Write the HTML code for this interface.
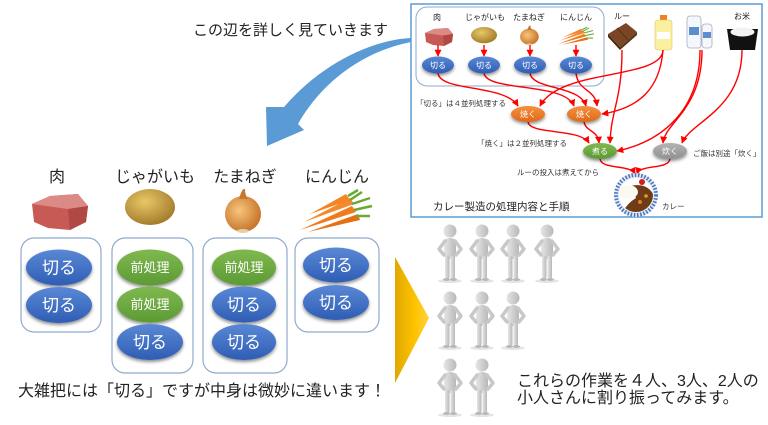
<!DOCTYPE html>
<html><head><meta charset="utf-8"><style>
html,body{margin:0;padding:0;background:#fff;width:768px;height:425px;overflow:hidden}
svg{display:block}
text{font-family:"Liberation Sans","Noto Sans CJK JP",sans-serif}
</style></head><body>
<svg width="768" height="425" viewBox="0 0 768 425" xmlns="http://www.w3.org/2000/svg">
<defs>
<linearGradient id="gb" x1="0" y1="0" x2="0" y2="1"><stop offset="0" stop-color="#5a88d6"/><stop offset="1" stop-color="#2f5db4"/></linearGradient>
<linearGradient id="gg" x1="0" y1="0" x2="0" y2="1"><stop offset="0" stop-color="#80b850"/><stop offset="1" stop-color="#5c9a34"/></linearGradient>
<linearGradient id="go" x1="0" y1="0" x2="0" y2="1"><stop offset="0" stop-color="#f59040"/><stop offset="1" stop-color="#dd6a18"/></linearGradient>
<linearGradient id="ggr" x1="0" y1="0" x2="0" y2="1"><stop offset="0" stop-color="#b4b4b4"/><stop offset="1" stop-color="#909090"/></linearGradient>
<linearGradient id="gy" x1="0" y1="0" x2="1" y2="0"><stop offset="0" stop-color="#e0a800"/><stop offset="0.6" stop-color="#ffc400"/><stop offset="1" stop-color="#ffd040"/></linearGradient>
<radialGradient id="gpot" cx="0.4" cy="0.35" r="0.7"><stop offset="0" stop-color="#e8c868"/><stop offset="1" stop-color="#a07828"/></radialGradient>
<radialGradient id="gon" cx="0.4" cy="0.4" r="0.7"><stop offset="0" stop-color="#f6c67c"/><stop offset="1" stop-color="#c06a20"/></radialGradient>
<linearGradient id="gp" x1="0" y1="0" x2="1" y2="0"><stop offset="0" stop-color="#e6e6e6"/><stop offset="1" stop-color="#b8b8b8"/></linearGradient>
<filter id="sh" x="-20%" y="-20%" width="140%" height="160%"><feDropShadow dx="0" dy="2" stdDeviation="1.5" flood-color="#000" flood-opacity="0.45"/></filter>
<clipPath id="plate"><circle cx="636" cy="195" r="17"/></clipPath>
<marker id="ar" viewBox="0 0 10 10" refX="9" refY="5" markerWidth="5" markerHeight="5" orient="auto"><path d="M0,0 L10,5 L0,10 Z" fill="#ff0000"/></marker>

<g id="meat">
<path d="M2,12 L20,4 L48,2 L58,14 L56,30 L40,38 L18,36 L4,30 Z" fill="#c85a56"/>
<path d="M2,12 L20,4 L48,2 L58,14 L38,17 Z" fill="#dc8a86"/>
<path d="M38,17 L58,14 L56,30 L40,38 Z" fill="#b04844"/>
</g>
<g id="potato"><ellipse cx="25" cy="18" rx="25" ry="18" fill="url(#gpot)"/></g>
<g id="onion">
<circle cx="20" cy="26" r="18" fill="url(#gon)"/>
<path d="M16,11 Q19,0 22,1 Q22,7 25,11 Z" fill="#c8782c"/>
<ellipse cx="20" cy="43" rx="6" ry="2" fill="#e0d0a8"/>
</g>
<g id="carrot">
<path d="M0,38 L52,14 L56,20 Z" fill="#f07a1c"/>
<path d="M4,30 L50,6 L54,12 Z" fill="#f58a2a"/>
<path d="M8,40 L58,22 L60,28 Z" fill="#e86e14"/>
<path d="M10,22 L46,2 L50,8 Z" fill="#f48424"/>
<path d="M50,8 L62,0 M52,12 L70,6 M54,18 L72,14 M56,24 L70,24 M48,4 L58,-2" stroke="#6aaa30" stroke-width="2.5" fill="none"/>
</g>
<g id="person">
<ellipse cx="12" cy="57" rx="12" ry="2" fill="#e4e4e4"/>
<circle cx="12" cy="7" r="6.5" fill="url(#gp)"/>
<rect x="6" y="14" width="12" height="21" rx="5" fill="url(#gp)"/>
<path d="M7,17 L1,25 L6,31 M17,17 L23,25 L18,31" stroke="#c8c8c8" stroke-width="3.5" fill="none" stroke-linecap="round" stroke-linejoin="round"/>
<rect x="7" y="32" width="4.5" height="23" rx="2" fill="url(#gp)"/>
<rect x="12.5" y="32" width="4.5" height="23" rx="2" fill="url(#gp)"/>
<ellipse cx="8.5" cy="55.5" rx="3.5" ry="1.5" fill="#b8b8b8"/>
<ellipse cx="15.5" cy="55.5" rx="3.5" ry="1.5" fill="#b8b8b8"/>
</g>
</defs>

<!-- top text -->
<text x="193" y="35" font-size="15" fill="#222">この辺を詳しく見ていきます</text>

<!-- blue arrow -->
<path d="M411,38 C370,40 320,65 284,107 L266,107 L267,146 L304,130 L298,124 C320,85 360,52 411,42 Z" fill="#5b9bd5"/>

<!-- top right diagram -->
<rect x="411" y="4" width="351" height="213" fill="#fff" stroke="#5b9bd5" stroke-width="1.5"/>
<rect x="416" y="7" width="188" height="79" rx="11" fill="none" stroke="#8eaacc" stroke-width="1"/>
<g font-size="8" fill="#222" text-anchor="middle">
<text x="437" y="20">肉</text>
<text x="485" y="20">じゃがいも</text>
<text x="529" y="20">たまねぎ</text>
<text x="576" y="20">にんじん</text>
<text x="622" y="19">ルー</text>
<text x="742" y="19">お米</text>
</g>
<use href="#meat" transform="translate(424,27) scale(0.5)"/>
<use href="#potato" transform="translate(471,27) scale(0.52,0.45)"/>
<use href="#onion" transform="translate(519,25) scale(0.52,0.45)"/>
<use href="#carrot" transform="translate(558,28) scale(0.5,0.42)"/>
<!-- roux -->
<path d="M608,34 L626,23 L637,32 L620,47 Z" fill="#7a4626"/>
<path d="M608,34 L620,47 L620,50 L608,37 Z" fill="#4a2810"/>
<path d="M620,47 L637,32 L637,35 L620,50 Z" fill="#5a3418"/>
<path d="M617,28 L628,40" stroke="#5a3418" stroke-width="1"/>
<!-- oil -->
<rect x="660" y="15" width="7" height="5" fill="#f08020"/>
<rect x="655" y="20" width="17" height="30" rx="3" fill="#fbf0a0" stroke="#e0c860" stroke-width="0.6"/>
<rect x="657" y="32" width="13" height="7" fill="#fff"/>
<!-- water -->
<rect x="687" y="16" width="14" height="32" rx="3" fill="#f4f8fc" stroke="#aab" stroke-width="0.8"/>
<rect x="689" y="27" width="10" height="8" fill="#5b8fd0"/>
<rect x="702" y="24" width="10" height="24" rx="3" fill="#f4f8fc" stroke="#aab" stroke-width="0.8"/>
<rect x="703" y="32" width="8" height="6" fill="#5b8fd0"/>
<!-- rice -->
<path d="M727,29 L758,29 L755,50 L730,50 Z" fill="#111"/>
<ellipse cx="742.5" cy="32" rx="12" ry="4.5" fill="#f2f2f2"/>

<!-- arrows -->
<g stroke="#ff0000" stroke-width="1.4" fill="none" marker-end="url(#ar)">
<path d="M438,45 L438,56"/><path d="M484,45 L484,56"/><path d="M530,45 L530,56"/><path d="M576,45 L576,56"/>
<path d="M438,73 C440,92 505,84 518,106"/>
<path d="M484,73 C486,92 565,82 574,106"/>
<path d="M530,73 C532,90 580,85 586,106"/>
<path d="M576,73 C578,92 595,88 597,106"/>
<path d="M663,50 C662,80 560,68 540,106"/>
<path d="M663,50 C660,88 640,108 602,114"/>
<path d="M528,122 C530,135 580,128 589,143"/>
<path d="M584,122 C586,132 598,130 599,143"/>
<path d="M622,50 C622,100 611,110 610,143"/>
<path d="M700,50 C700,112 660,142 617,151"/>
<path d="M702,50 C702,110 665,122 663,143"/>
<path d="M742,50 C742,110 690,122 682,143"/>
<path d="M600,159 C602,170 630,164 635,174"/>
<path d="M670,159 C668,170 640,164 637,174"/>
</g>

<g filter="url(#sh)">
<ellipse cx="438" cy="65" rx="16" ry="8.5" fill="url(#gb)"/>
<ellipse cx="484" cy="65" rx="16" ry="8.5" fill="url(#gb)"/>
<ellipse cx="530" cy="65" rx="16" ry="8.5" fill="url(#gb)"/>
<ellipse cx="576" cy="65" rx="16" ry="8.5" fill="url(#gb)"/>
<ellipse cx="528" cy="114" rx="17" ry="8" fill="url(#go)"/>
<ellipse cx="584" cy="114" rx="17" ry="8" fill="url(#go)"/>
<ellipse cx="600" cy="151" rx="17" ry="8" fill="url(#gg)"/>
<ellipse cx="670" cy="151" rx="17" ry="8" fill="url(#ggr)"/>
</g>
<g font-size="8" fill="#fff" text-anchor="middle">
<text x="438" y="68">切る</text><text x="484" y="68">切る</text><text x="530" y="68">切る</text><text x="576" y="68">切る</text>
<text x="528" y="117">焼く</text><text x="584" y="117">焼く</text>
<text x="600" y="154">煮る</text><text x="670" y="154">炊く</text>
</g>
<g font-size="7.5" fill="#333">
<text x="416" y="106">「切る」は４並列処理する</text>
<text x="477" y="146">「焼く」は２並列処理する</text>
<text x="693" y="156">ご飯は別途「炊く」</text>
<text x="517" y="175">ルーの投入は煮えてから</text>
<text x="662" y="209">カレー</text>
</g>
<text x="433" y="210" font-size="10.5" fill="#222">カレー製造の処理内容と手順</text>
<!-- curry plate -->
<circle cx="636" cy="195" r="22" fill="#e8eef8"/>
<circle cx="636" cy="195" r="20" fill="none" stroke="#4a78c0" stroke-width="4" stroke-dasharray="1.6 1.6"/>
<circle cx="636" cy="195" r="17" fill="#fff"/>
<g clip-path="url(#plate)">
<path d="M630,186 Q648,182 654,196 L654,214 L622,214 Q626,204 636,198 Z" fill="#6e3c16"/>
<ellipse cx="628" cy="192" rx="10" ry="7" fill="#fbfaf2"/>
<circle cx="640" cy="202" r="2" fill="#e08020"/>
<circle cx="646" cy="196" r="1.8" fill="#e0a020"/>
</g>
<circle cx="642" cy="182" r="3" fill="#d02020"/>

<!-- left side labels -->
<g font-size="16" fill="#222" text-anchor="middle">
<text x="57" y="182">肉</text>
<text x="155" y="182">じゃがいも</text>
<text x="245" y="182">たまねぎ</text>
<text x="337" y="182">にんじん</text>
</g>
<use href="#meat" transform="translate(30,192)"/>
<use href="#potato" transform="translate(125,189)"/>
<use href="#onion" transform="translate(223,188)"/>
<use href="#carrot" transform="translate(300,192)"/>

<!-- boxes -->
<g fill="none" stroke="#8eaacc" stroke-width="1.2">
<rect x="21" y="238" width="80" height="94" rx="13"/>
<rect x="112" y="238" width="81" height="135" rx="13"/>
<rect x="203" y="238" width="84" height="135" rx="13"/>
<rect x="295" y="238" width="84" height="94" rx="13"/>
</g>
<g filter="url(#sh)">
<ellipse cx="59" cy="267.5" rx="33" ry="18" fill="url(#gb)"/>
<ellipse cx="59" cy="305" rx="33" ry="18" fill="url(#gb)"/>
<ellipse cx="150" cy="267.5" rx="33" ry="18" fill="url(#gg)"/>
<ellipse cx="150" cy="304.5" rx="33" ry="18" fill="url(#gg)"/>
<ellipse cx="150" cy="342" rx="33" ry="18" fill="url(#gb)"/>
<ellipse cx="244" cy="267.5" rx="32" ry="18" fill="url(#gg)"/>
<ellipse cx="244" cy="304.5" rx="32" ry="18" fill="url(#gb)"/>
<ellipse cx="244" cy="342" rx="32" ry="18" fill="url(#gb)"/>
<ellipse cx="336" cy="265" rx="33" ry="17.5" fill="url(#gb)"/>
<ellipse cx="336" cy="302.5" rx="33" ry="17.5" fill="url(#gb)"/>
</g>
<g fill="#fff" text-anchor="middle">
<text x="59" y="273.5" font-size="17">切る</text>
<text x="59" y="311" font-size="17">切る</text>
<text x="150" y="272" font-size="13">前処理</text>
<text x="150" y="309" font-size="13">前処理</text>
<text x="150" y="348" font-size="17">切る</text>
<text x="244" y="272" font-size="13">前処理</text>
<text x="244" y="310.5" font-size="17">切る</text>
<text x="244" y="348" font-size="17">切る</text>
<text x="336" y="271" font-size="17">切る</text>
<text x="336" y="308.5" font-size="17">切る</text>
</g>
<text x="18" y="396" font-size="16" fill="#222">大雑把には「切る」ですが中身は微妙に違います！</text>

<!-- yellow triangle -->
<path d="M395,257 L429,318 L395,383 Z" fill="url(#gy)"/>

<!-- people -->
<use href="#person" transform="translate(438,224)"/>
<use href="#person" transform="translate(470,224)"/>
<use href="#person" transform="translate(501,224)"/>
<use href="#person" transform="translate(535,224)"/>
<use href="#person" transform="translate(438,291)"/>
<use href="#person" transform="translate(470,291)"/>
<use href="#person" transform="translate(501,291)"/>
<use href="#person" transform="translate(438,358)"/>
<use href="#person" transform="translate(470,358)"/>

<text x="517" y="386" font-size="16" fill="#222">これらの作業を４人、3人、2人の</text>
<text x="517" y="403" font-size="16" fill="#222">小人さんに割り振ってみます。</text>
</svg>
</body></html>
